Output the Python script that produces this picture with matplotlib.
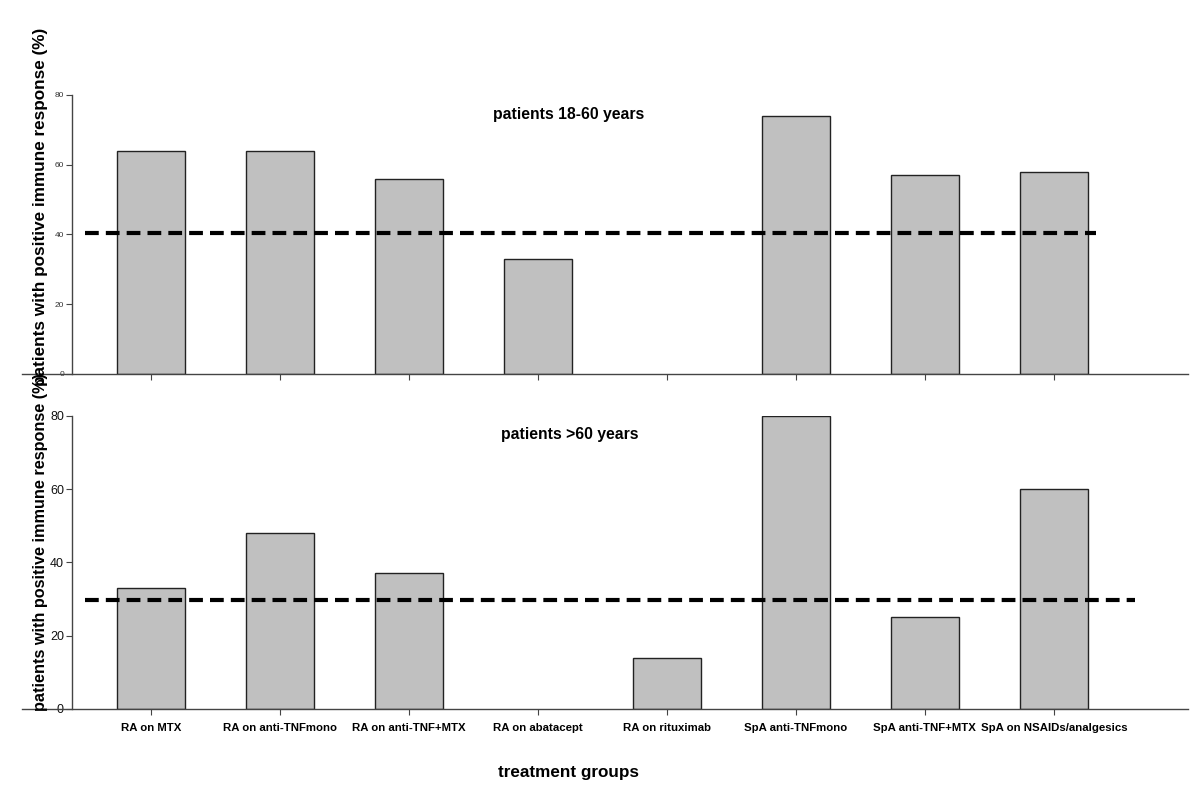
import matplotlib
matplotlib.use("Agg")
import matplotlib.pyplot as plt

plt.rcParams["font.family"] = ["Liberation Sans", "DejaVu Sans"]

groups = [
    "RA on MTX",
    "RA on anti-TNFmono",
    "RA on anti-TNF+MTX",
    "RA on abatacept",
    "RA on rituximab",
    "SpA anti-TNFmono",
    "SpA anti-TNF+MTX",
    "SpA on NSAIDs/analgesics",
]
# None = no bar drawn for that group
young = [64, 64, 56, 33, None, 74, 57, 58]
old = [33, 48, 37, None, 14, 80, 25, 60]
young_ref = 40.5
old_ref = 29.7

y_ticks = [0, 20, 40, 60, 80]
ylabel = "patients with positive immune response (%)"

fig = plt.figure(figsize=(12, 7.96), dpi=100)
ax_top = fig.add_axes([0.0183, 0.5302, 0.9717, 0.3505])
ax_bot = fig.add_axes([0.0183, 0.1093, 0.9717, 0.3681])

xpos = list(range(len(groups)))


def draw_panel(ax, values, ref, ref_end, tick_size, tick_color):
    xs = [x for x, v in zip(xpos, values) if v is not None]
    vs = [v for v in values if v is not None]
    ax.bar(xs, vs, width=0.53, color="#c0c0c0", edgecolor="#222222",
           linewidth=1.0, zorder=2)
    ax.plot([-0.51, ref_end], [ref, ref], color="black", linewidth=3,
            linestyle=(0, (3.3, 1.7)), zorder=3)
    ax.set_xlim(-1.0, 8.04)
    ax.set_ylim(0, 80)
    ax.set_yticks(y_ticks)
    ax.set_xticks(xpos)
    for side in ["top", "right"]:
        ax.spines[side].set_visible(False)
    ax.spines["left"].set_position(("data", -0.61))
    for side in ["left", "bottom"]:
        ax.spines[side].set_color("#444444")
        ax.spines[side].set_linewidth(1.0)
    ax.tick_params(axis="both", direction="out", length=4, width=0.8,
                   color="#444444")
    ax.tick_params(axis="y", labelsize=tick_size, labelcolor=tick_color, pad=2)


draw_panel(ax_top, young, young_ref, 7.33, 6, "#333333")
draw_panel(ax_bot, old, old_ref, 7.63, 9, "#111111")

ax_top.set_xticklabels([])
ax_bot.set_xticklabels(groups, fontsize=8.2, fontweight="bold")
ax_bot.tick_params(axis="x", pad=6)

# panel titles
fig.text(569 / 1200, 1 - 115 / 796, "patients 18-60 years", ha="center",
         va="center", fontsize=11.3, fontweight="bold")
fig.text(570 / 1200, 1 - 434 / 796, "patients >60 years", ha="center",
         va="center", fontsize=11.3, fontweight="bold")

fig.text(41 / 1200, 1 - 207 / 796, ylabel, rotation=90, ha="center",
         va="center", fontsize=12.3, fontweight="bold")
fig.text(41 / 1200, 1 - 542 / 796, ylabel, rotation=90, ha="center",
         va="center", fontsize=11.7, fontweight="bold")
fig.text(569 / 1200, 1 - 773 / 796, "treatment groups", ha="center",
         va="center", fontsize=12.3, fontweight="bold")

fig.savefig("out.png", dpi=100)
